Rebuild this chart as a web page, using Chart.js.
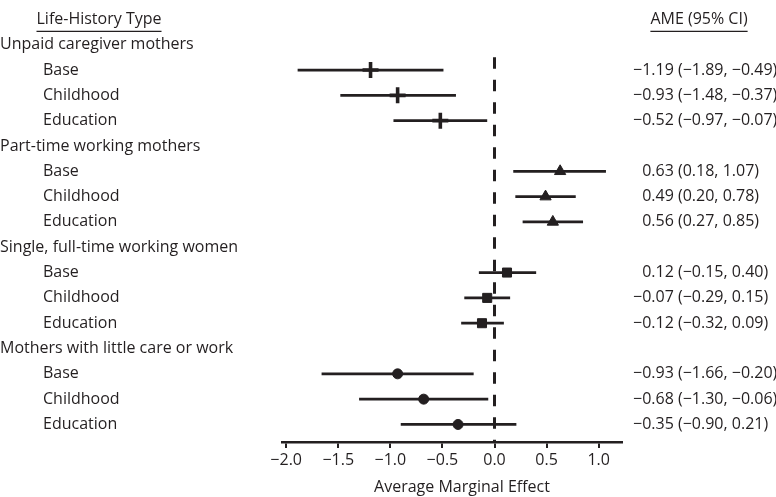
<!DOCTYPE html>
<html>
<head>
<meta charset="utf-8">
<script src="https://cdn.jsdelivr.net/npm/chart.js@4.4.0/dist/chart.umd.min.js"></script>
<style>
html,body{margin:0;padding:0;background:#fff;}
#wrap{width:776px;height:497px;position:relative;}
</style>
</head>
<body>
<div id="wrap"><canvas id="c" width="776" height="497"></canvas></div>
<script>
// ---- data ----
const groups = ["Unpaid caregiver mothers", "Part-time working mothers", "Single, full-time working women", "Mothers with little care or work"];
const models = ["Base", "Childhood", "Education"];
const estUnpaid = [-1.19, -0.93, -0.52];
const loUnpaid  = [-1.89, -1.48, -0.97];
const hiUnpaid  = [-0.49, -0.37, -0.07];
const estPart = [0.63, 0.49, 0.56];
const loPart  = [0.18, 0.20, 0.27];
const hiPart  = [1.07, 0.78, 0.85];
const estSingle = [0.12, -0.07, -0.12];
const loSingle  = [-0.15, -0.29, -0.32];
const hiSingle  = [0.40, 0.15, 0.09];
const estLittle = [-0.93, -0.68, -0.35];
const loLittle  = [-1.66, -1.30, -0.90];
const hiLittle  = [-0.20, -0.06, 0.21];
const xTicks = [-2.0, -1.5, -1.0, -0.5, 0.0, 0.5, 1.0];

const est = [estUnpaid, estPart, estSingle, estLittle];
const lo = [loUnpaid, loPart, loSingle, loLittle];
const hi = [hiUnpaid, hiPart, hiSingle, hiLittle];
const styles = ["cross", "triangle", "rect", "circle"];
const radii = [8, 6.5, 6.4, 5];

const INK = "#231f20";
const FONT = "'Open Sans', Lato, sans-serif";
const FS = 16;
const fmt = v => (Math.abs(v) < 1e-9 ? "0.00" : v.toFixed(2)).replace("-", "\u2212");

const rowOf = (g, m) => 2 + 4 * g + m;
const datasets = [];
// estimate markers
groups.forEach((gname, g) => {
  datasets.push({
    type: "scatter",
    order: 0,
    data: est[g].map((v, m) => ({ x: v, y: rowOf(g, m) })),
    pointStyle: styles[g],
    pointRadius: radii[g],
    pointHoverRadius: radii[g],
    backgroundColor: INK,
    borderColor: INK,
    borderWidth: styles[g] === "cross" ? 3.6 : 1,
    showLine: false
  });
});
// CI lines
groups.forEach((gname, g) => {
  models.forEach((mname, m) => {
    datasets.push({
      type: "scatter",
      order: 1,
      data: [{ x: lo[g][m], y: rowOf(g, m) }, { x: hi[g][m], y: rowOf(g, m) }],
      showLine: true,
      borderColor: INK,
      borderWidth: 2.8,
      pointRadius: 0,
      pointHoverRadius: 0
    });
  });
});
// zero reference line
datasets.push({
  type: "scatter",
  order: 2,
  data: [{ x: 0, y: 1.5 }, { x: 0, y: 16.6923 }],
  showLine: true,
  borderColor: INK,
  borderWidth: 3,
  borderDash: [11.3, 11.2],
  pointRadius: 0,
  pointHoverRadius: 0
});

const textPlugin = {
  id: "texts",
  afterDraw(chart) {
    const ctx = chart.ctx;
    const ys = chart.scales.y;
    ctx.save();
    ctx.fillStyle = INK;
    ctx.strokeStyle = INK;
    ctx.textBaseline = "middle";
    ctx.font = FS + "px " + FONT;
    // headers
    ctx.textAlign = "center";
    const hy = ys.getPixelForValue(0);
    ctx.fillText("Life-History Type", 99, hy);
    ctx.fillText("AME (95% CI)", 699, hy);
    ctx.lineWidth = 1.2;
    [["Life-History Type", 99], ["AME (95% CI)", 699]].forEach(([t, cx]) => {
      const w = ctx.measureText(t).width;
      ctx.beginPath();
      ctx.moveTo(cx - w / 2, hy + 12);
      ctx.lineTo(cx + w / 2, hy + 12);
      ctx.stroke();
    });
    groups.forEach((gname, g) => {
      ctx.textAlign = "left";
      ctx.fillText(gname, 0, ys.getPixelForValue(1 + 4 * g));
      models.forEach((mname, m) => {
        const py = ys.getPixelForValue(rowOf(g, m));
        ctx.textAlign = "left";
        ctx.fillText(mname, 43, py);
        ctx.textAlign = "right";
        ctx.fillText(fmt(est[g][m]) + " ", 678, py);
        ctx.textAlign = "left";
        ctx.fillText("(" + fmt(lo[g][m]) + ", " + fmt(hi[g][m]) + ")", 678, py);
      });
    });
    // axis title
    ctx.textAlign = "center";
    ctx.fillText("Average Marginal Effect", 462, 487);
    ctx.restore();
  }
};

new Chart(document.getElementById("c"), {
  type: "scatter",
  data: { datasets },
  options: {
    responsive: false,
    animation: false,
    events: [],
    layout: { padding: { left: 282, right: 154, top: 0, bottom: 0 } },
    plugins: { legend: { display: false }, tooltip: { enabled: false } },
    scales: {
      y: {
        type: "linear",
        display: false,
        reverse: true,
        min: -0.3077,
        max: 16.6923
      },
      x: {
        type: "linear",
        min: -2.04,
        max: 1.224,
        afterBuildTicks: s => { s.ticks = xTicks.map(v => ({ value: v })); },
        afterFit: s => { s.height = 55; },
        border: { display: true, color: INK, width: 2.5 },
        grid: { display: true, drawOnChartArea: false, drawTicks: true, tickLength: 6, color: INK, lineWidth: 2 },
        ticks: {
          color: INK,
          font: { family: FONT, size: FS },
          padding: 3,
          maxRotation: 0,
          autoSkip: false,
          callback: v => (Math.abs(v) < 1e-9 ? "0.0" : Number(v).toFixed(1)).replace("-", "\u2212")
        }
      }
    }
  },
  plugins: [textPlugin]
});
</script>
</body>
</html>
